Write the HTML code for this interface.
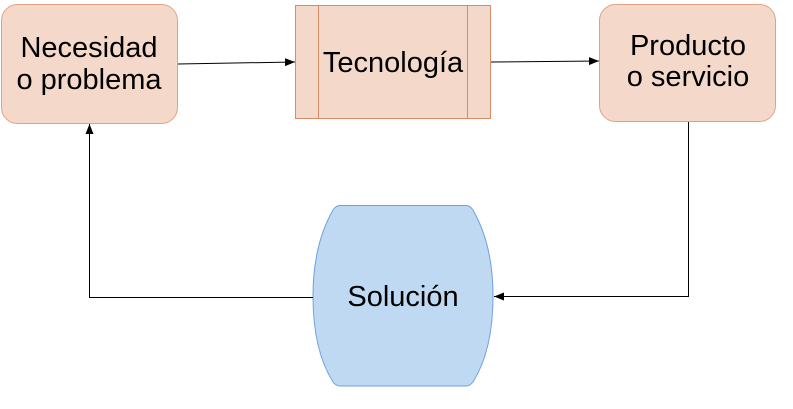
<!DOCTYPE html>
<html><head><style>body{margin:0;background:#fff}</style></head><body>
<svg width="793" height="404" xmlns="http://www.w3.org/2000/svg" font-family="Liberation Sans, sans-serif" font-size="29">
<defs><marker id="a" markerWidth="10" markerHeight="8" refX="10" refY="4" orient="auto" markerUnits="userSpaceOnUse"><path d="M0,0L10,4L0,8z" fill="#000"/></marker></defs>
<rect x="1.5" y="4.5" width="176" height="119" rx="16" fill="#f4d9ca" stroke="#e0a382"/>
<text x="89" y="57" text-anchor="middle">Necesidad</text>
<text x="89" y="89" text-anchor="middle">o problema</text>
<rect x="295.5" y="5.5" width="195" height="113" fill="#f4d9ca" stroke="#d98c63"/>
<line x1="318.5" y1="5.5" x2="318.5" y2="118.5" stroke="#d98c63"/>
<line x1="467.5" y1="5.5" x2="467.5" y2="118.5" stroke="#d98c63"/>
<text x="393" y="72" text-anchor="middle">Tecnología</text>
<rect x="599.5" y="4.5" width="176" height="117" rx="16" fill="#f4d9ca" stroke="#e0a382"/>
<text x="688" y="55" text-anchor="middle">Producto</text>
<text x="688" y="86" text-anchor="middle">o servicio</text>
<path d="M340,205.5 Q336,205.5 333,210 Q313,245 313,296 Q313,350 333,382 Q336,386 340,386 L466,386 Q470,386 473,382 Q493,350 493,296 Q493,245 473,210 Q470,205.5 466,205.5Z" fill="#bfd9f2" stroke="#6fa0dc"/>
<text x="403" y="306" text-anchor="middle">Solución</text>
<g stroke="#000" fill="none" stroke-width="1">
<path d="M178,64 L295,62" marker-end="url(#a)"/>
<path d="M491,62 L599,61" marker-end="url(#a)"/>
<path d="M688.5,122 L688.5,296.5 L494,296.5" marker-end="url(#a)"/>
<path d="M313,297.5 L89.5,297.5 L89.5,124" marker-end="url(#a)"/>
</g>
</svg>
</body></html>
